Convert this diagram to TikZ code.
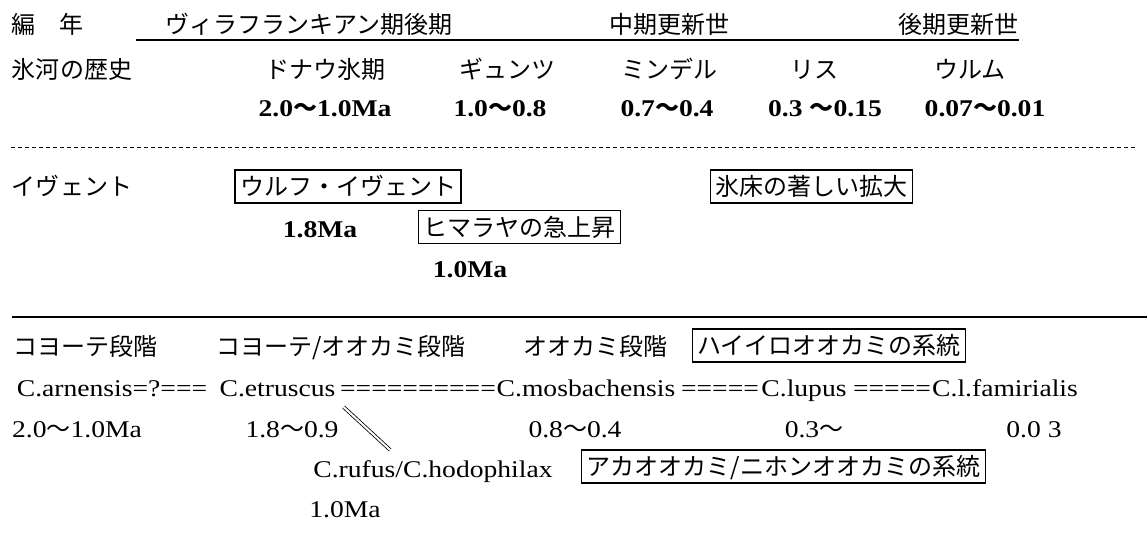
\documentclass[tikz,border=0pt]{standalone}
\usepackage{fontspec}
\setmainfont{Liberation Serif}[FakeStretch=1.15]
\newfontfamily\jpfont{Noto Sans CJK JP}
\usetikzlibrary{calc}
\newcommand\wv{{\jpfont 〜}}
\begin{document}
\begin{tikzpicture}[x=1pt,y=-1pt,
  jp/.style={font=\jpfont\fontsize{24}{28}\selectfont, inner sep=0pt, anchor=base},
  lt/.style={font=\fontsize{24}{28}\selectfont, inner sep=0pt, anchor=base},
  ltb/.style={font=\bfseries\fontsize{24}{28}\selectfont, inner sep=0pt, anchor=base},
  framebox/.style={draw, line width=1.1pt, font=\jpfont\fontsize{24}{28}\selectfont,
    inner xsep=5pt, inner ysep=4.5pt, text height=21pt, text depth=3pt, anchor=center},
  ulrule/.style={line width=1.4pt},
  solidrule/.style={line width=1.2pt},
  dashrule/.style={dash pattern=on 4pt off 3pt, line width=1pt},
  dbl/.style={double, double distance=2pt, line width=0.8pt}]
\fill[white] (0,0) rectangle (1147,554);
\useasboundingbox (0,0) rectangle (1147,554);

% ---- row 1: chronology
\node[jp] (hen) at (47,33) {編　年};
\node[jp] (vil) at (309,33) {ヴィラフランキアン期後期};
\node[jp] (mid) at (669,33) {中期更新世};
\node[jp] (lat) at (958,33) {後期更新世};
\draw[ulrule] (136,40) -- (1019,40);

% ---- row 2: glacial history
\node[jp] (gla) at (72,78) {氷河の歴史};
\node[jp] (don) at (325,78) {ドナウ氷期};
\node[jp] (gun) at (507,78) {ギュンツ};
\node[jp] (min) at (669,78) {ミンデル};
\node[jp] (ris) at (814,78) {リス};
\node[jp] (wur) at (970,78) {ウルム};

% ---- row 3: ages
\node[ltb] (tdon) at (325,116) {2.0\wv1.0Ma};
\node[ltb] (tgun) at (500,116) {1.0\wv0.8};
\node[ltb] (tmin) at (667,116) {0.7\wv0.4};
\node[ltb] (tris) at (825,116) {0.3 \wv0.15};
\node[ltb] (twur) at (985,116) {0.07\wv0.01};

\draw[dashrule] (11,147) -- (1137,147);

% ---- events
\node[jp] (evt) at (72,195) {イヴェント};
\node[framebox] (wolf) at (348,186.5) {ウルフ・イヴェント};
\node[framebox] (ice) at (811.5,186.5) {氷床の著しい拡大};
\node[ltb] (twolf) at (320,237) {1.8Ma};
\node[framebox] (hima) at (519.5,227) {ヒマラヤの急上昇};
\node[ltb] (thima) at (470,277) {1.0Ma};

\draw[solidrule] (12,317) -- (1147,317);

% ---- stages
\node[jp] (s1) at (85,355) {コヨーテ段階};
\node[jp] (s2) at (341,355) {コヨーテ/オオカミ段階};
\node[jp] (s3) at (595,355) {オオカミ段階};
\node[framebox] (gray) at (829,345.5) {ハイイロオオカミの系統};

% ---- species
\node[lt] (arn) at (112,396) {C.arnensis=?===};
\node[lt] (etr) at (277.5,396) {C.etruscus};
\node[lt] (eq1) at (418,396) {==========};
\node[lt] (mos) at (586,396) {C.mosbachensis};
\node[lt] (eq2) at (720,396) {=====};
\node[lt] (lup) at (804,396) {C.lupus};
\node[lt] (eq3) at (892,396) {=====};
\node[lt] (fam) at (1005,396) {C.l.famirialis};

\node[lt] (tarn) at (77,437) {2.0\wv1.0Ma};
\node[lt] (tetr) at (292,437) {1.8\wv0.9};
\node[lt] (tmos) at (575,437) {0.8\wv0.4};
\node[lt] (tlup) at (814,437) {0.3\wv};
\node[lt] (tfam) at (1034,437) {0.0 3};

\node[lt] (ruf) at (433,477) {C.rufus/C.hodophilax};
\node[framebox] (red) at (783.5,466.5) {アカオオカミ/ニホンオオカミの系統};
\node[lt] (truf) at (345,517) {1.0Ma};

\coordinate (dA) at ($(etr.base east)+(8,11)$);
\coordinate (dB) at ($(ruf.base west)+(77,-27)$);
\draw[dbl] (dA) -- (dB);
\end{tikzpicture}
\end{document}
